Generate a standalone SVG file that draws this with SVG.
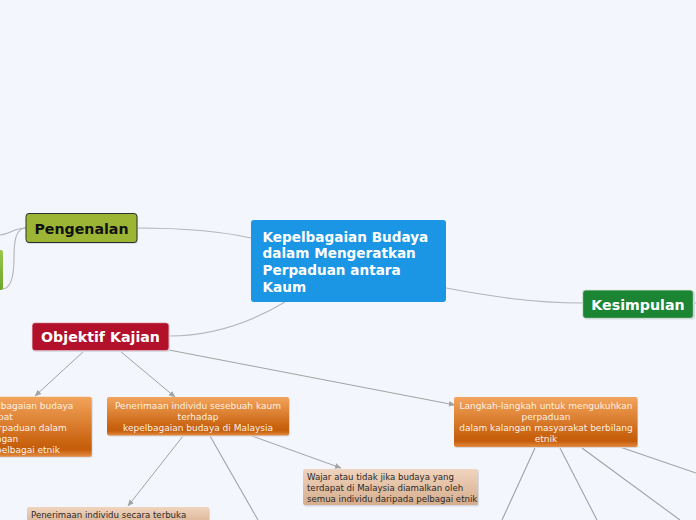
<svg xmlns="http://www.w3.org/2000/svg" width="696" height="520" viewBox="0 0 696 520">
<defs>
<linearGradient id="gOrange" x1="0" y1="0" x2="0" y2="1">
<stop offset="0" stop-color="#f3a45c"/>
<stop offset="0.78" stop-color="#c8620f"/>
<stop offset="0.88" stop-color="#c55d0b"/>
<stop offset="1" stop-color="#e48c42"/>
</linearGradient>
<linearGradient id="gBeige" x1="0" y1="0" x2="0" y2="1">
<stop offset="0" stop-color="#f0d4be"/>
<stop offset="1" stop-color="#d6ad8d"/>
</linearGradient>
<linearGradient id="gGreen" x1="0" y1="0" x2="0" y2="1">
<stop offset="0" stop-color="#9cc84c"/>
<stop offset="1" stop-color="#6ea42a"/>
</linearGradient>
<marker id="arr" viewBox="0 0 8 8" refX="7" refY="4" markerWidth="7" markerHeight="7" orient="auto" markerUnits="userSpaceOnUse">
<path d="M0,0.8 L7.5,4 L0,7.2 Z" fill="#a2a2a2"/>
</marker>
<style>
.con{fill:none;stroke:#b4b4b8;stroke-width:1.1}
.arw{fill:none;stroke:#a2a2a2;stroke-width:1;marker-end:url(#arr)}
.shadow{fill:#d6dae3}
.main{font-family:"DejaVu Sans",Verdana,sans-serif;font-weight:bold;font-size:13.6px;fill:#ffffff}
.topic{font-family:"DejaVu Sans",Verdana,sans-serif;font-weight:bold;font-size:14.2px}
.sub{font-family:"DejaVu Sans",Verdana,sans-serif;font-size:9px;fill:#fdf1e4}
.leaf{font-family:"DejaVu Sans",Verdana,sans-serif;font-size:8.6px;fill:#2a2a2a}
</style>
</defs>
<rect width="696" height="520" fill="#f3f6fc"/>

<g id="connectors">
<path class="con" d="M137,228 C185,228 220,231 251,238"/>
<path class="con" d="M169,336 C215,336 255,320 285,302"/>
<path class="con" d="M446,288 C490,296 530,303 583,303"/>
<path class="con" d="M693,303 L696,303"/>
<path class="con" d="M26,228 C14,228 10,234 0,235"/>
<path class="con" d="M26,228 C16,228 14,240 14,258 C14,280 10,289 2,289"/>
<path class="arw" d="M84,351 L35,396"/>
<path class="arw" d="M120,351 L175,397"/>
<path class="arw" d="M169,350 L455,405"/>
<path class="arw" d="M183,436 L128,506"/>
<path class="con" style="stroke:#a2a2a2" d="M210,436 L258,520"/>
<path class="arw" d="M252,436 L341,468"/>
<path class="con" style="stroke:#a2a2a2" d="M535,448 L502,520"/>
<path class="con" style="stroke:#a2a2a2" d="M560,448 L597,520"/>
<path class="con" style="stroke:#a2a2a2" d="M582,448 L680,520"/>
<path class="con" style="stroke:#a2a2a2" d="M620,447 L696,473"/>
</g>

<g id="node-left-green">
<rect x="-10" y="250" width="13" height="40" rx="2" fill="url(#gGreen)"/>
</g>

<g id="node-center">
<rect x="251" y="220" width="195" height="82" rx="3" fill="#1a96e5"/>
<text class="main" x="262.5" y="241.7">Kepelbagaian Budaya</text>
<text class="main" x="262.5" y="258.4">dalam Mengeratkan</text>
<text class="main" x="262.5" y="275">Perpaduan antara</text>
<text class="main" x="262.5" y="291.7">Kaum</text>
</g>

<g id="node-pengenalan">
<rect x="27" y="214.5" width="111" height="29.5" rx="3" class="shadow"/>
<rect x="26" y="213.5" width="111" height="29" rx="3" fill="#9db535" stroke="#2e2e2e" stroke-width="1"/>
<text class="topic" x="81.5" y="234.3" text-anchor="middle" fill="#111111">Pengenalan</text>
</g>

<g id="node-objektif">
<rect x="33" y="324" width="137" height="28" rx="3" class="shadow"/>
<rect x="32" y="322.7" width="137" height="28" rx="3" fill="#b3112b" stroke="#e9dade" stroke-width="0.8"/>
<text class="topic" x="100.5" y="341.7" text-anchor="middle" fill="#ffffff">Objektif Kajian</text>
</g>

<g id="node-kesimpulan">
<rect x="584" y="291" width="111" height="28.5" rx="3" class="shadow"/>
<rect x="582.7" y="290" width="110.6" height="28.3" rx="3" fill="#1b8534" stroke="#dfe9e2" stroke-width="0.8"/>
<text class="topic" x="638" y="310" text-anchor="middle" fill="#ffffff">Kesimpulan</text>
</g>

<g id="node-obj1">
<rect x="-20" y="397.8" width="112.7" height="60" rx="2" class="shadow"/>
<rect x="-20" y="396.7" width="111.7" height="60" rx="2" fill="url(#gOrange)"/>
<text class="sub" x="73.3" y="409" text-anchor="end">lbagaian budaya</text>
<text class="sub" x="12.7" y="420" text-anchor="end">pat</text>
<text class="sub" x="66.7" y="431" text-anchor="end">rpaduan dalam</text>
<text class="sub" x="18.3" y="442" text-anchor="end">ngan</text>
<text class="sub" x="60" y="453" text-anchor="end">pelbagai etnik</text>
</g>

<g id="node-obj2">
<rect x="108" y="398" width="182" height="38.5" rx="2" class="shadow"/>
<rect x="107" y="397" width="182" height="38.5" rx="2" fill="url(#gOrange)"/>
<text class="sub" x="198" y="409" text-anchor="middle">Penerimaan individu sesebuah kaum</text>
<text class="sub" x="198" y="419.5" text-anchor="middle">terhadap</text>
<text class="sub" x="198" y="431" text-anchor="middle">kepelbagaian budaya di Malaysia</text>
</g>

<g id="node-obj3">
<rect x="455" y="398" width="183" height="50" rx="2" class="shadow"/>
<rect x="454" y="397" width="183.5" height="50" rx="2" fill="url(#gOrange)"/>
<text class="sub" x="546" y="409" text-anchor="middle">Langkah-langkah untuk mengukuhkan</text>
<text class="sub" x="546" y="420" text-anchor="middle">perpaduan</text>
<text class="sub" x="546" y="431" text-anchor="middle">dalam kalangan masyarakat berbilang</text>
<text class="sub" x="546" y="442" text-anchor="middle">etnik</text>
</g>

<g id="node-wajar">
<rect x="304" y="470" width="175" height="36.5" rx="2" class="shadow"/>
<rect x="303" y="469" width="175" height="36" rx="2" fill="url(#gBeige)"/>
<text class="leaf" x="307" y="480">Wajar atau tidak jika budaya yang</text>
<text class="leaf" x="307" y="491">terdapat di Malaysia diamalkan oleh</text>
<text class="leaf" x="307" y="501.5">semua individu daripada pelbagai etnik</text>
</g>

<g id="node-penerimaan-terbuka">
<rect x="28" y="508" width="182" height="20" rx="2" class="shadow"/>
<rect x="27" y="507" width="182" height="20" rx="2" fill="url(#gBeige)"/>
<text class="leaf" x="31" y="518">Penerimaan individu secara terbuka</text>
</g>
</svg>
